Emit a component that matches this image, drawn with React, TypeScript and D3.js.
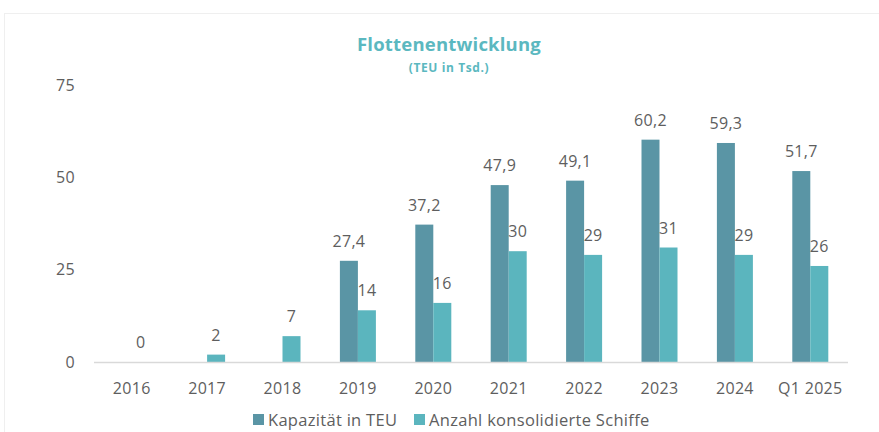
import React from "react"
import * as d3 from "d3"

const width = 879
const height = 432

const categories = ["2016", "2017", "2018", "2019", "2020", "2021", "2022", "2023", "2024", "Q1 2025"]
const capacity: (number | null)[] = [null, null, null, 27.4, 37.2, 47.9, 49.1, 60.2, 59.3, 51.7]
const ships = [0, 2, 7, 14, 16, 30, 29, 31, 29, 26]
const yTicks = [0, 25, 50, 75]
const seriesNames = ["Kapazität in TEU", "Anzahl konsolidierte Schiffe"]

const darkColor = "#5a95a5"
const lightColor = "#5bb5be"
const textColor = "#5e5e5e"
const font = "'Open Sans', sans-serif"

const x = d3.scaleBand<string>().domain(categories).range([94, 848]).padding(0)
const y = d3.scaleLinear().domain([0, 75]).range([362, 85])
const barW = 18

const fmt = (v: number) => String(v).replace(".", ",")

const App = () => {
  return (
    <svg width={width} height={height} style={{ position: "absolute", left: 0, top: 0 }} fontFamily={font}>
      <rect x={4.5} y={13.5} width={width} height={height} fill="white" stroke="#efefef" />
      <text x={449} y={51} textAnchor="middle" fontSize={18.5} fontWeight={700} fill="#5bb8c0" letterSpacing={0.2}>
        Flottenentwicklung
      </text>
      <text x={449} y={72} textAnchor="middle" fontSize={12} fontWeight={700} fill="#5bb8c0" letterSpacing={0.6}>
        (TEU in Tsd.)
      </text>

      {yTicks.map(t => (
        <text key={t} x={75} y={y(t)} dy="0.35em" textAnchor="end" fontSize={16} fill={textColor} letterSpacing={0.3}>
          {t}
        </text>
      ))}

      {categories.map((c, i) => {
        const cx = (x(c) ?? 0) + x.bandwidth() / 2
        const cap = capacity[i]
        const s = ships[i]
        return (
          <g key={c}>
            {cap !== null && (
              <>
                <rect x={cx - barW} y={y(cap)} width={barW} height={y(0) - y(cap)} fill={darkColor} />
                <text x={cx - barW / 2} y={y(cap) - 14} textAnchor="middle" fontSize={16} fill={textColor} letterSpacing={0.3}>
                  {fmt(cap)}
                </text>
              </>
            )}
            <rect x={cx} y={y(s)} width={barW} height={y(0) - y(s)} fill={lightColor} />
            <text x={cx + barW / 2} y={y(s) - 14} textAnchor="middle" fontSize={16} fill={textColor} letterSpacing={0.3}>
              {fmt(s)}
            </text>
            <text x={cx} y={388} dy="0.35em" textAnchor="middle" fontSize={16} fill={textColor} letterSpacing={0.3}>
              {c}
            </text>
          </g>
        )
      })}

      <line x1={94} x2={848} y1={y(0) + 0.5} y2={y(0) + 0.5} stroke="#d9d9d9" strokeWidth={1.5} />

      <g>
        <rect x={253} y={414} width={11} height={11} fill={darkColor} />
        <text x={268} y={420} dy="0.35em" fontSize={16.5} fill={textColor} letterSpacing={0.3}>{seriesNames[0]}</text>
        <rect x={414} y={414} width={11} height={11} fill={lightColor} />
        <text x={429} y={420} dy="0.35em" fontSize={16.5} fill={textColor} letterSpacing={0.3}>{seriesNames[1]}</text>
      </g>
    </svg>
  )
}

export default App
